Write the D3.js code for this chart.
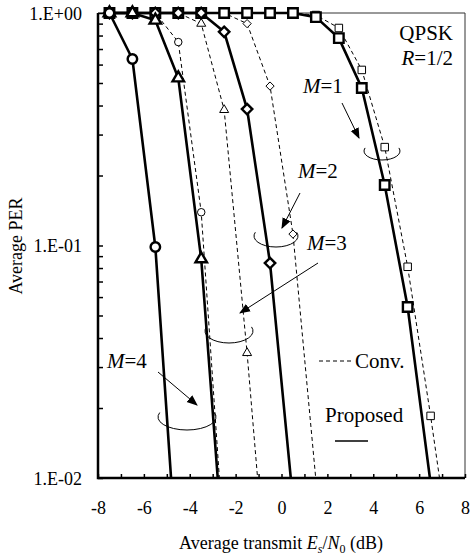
<!DOCTYPE html>
<html><head><meta charset="utf-8">
<script src="https://cdn.jsdelivr.net/npm/d3@7/dist/d3.min.js"></script>
<style>
body{margin:0;background:#fff}
text{font-family:"Liberation Serif","Times New Roman",serif;fill:#000}
</style>
</head><body>
<svg id="chart" width="474" height="559"></svg>
<script>
// ---------- data ----------
const xTickValues = [-8,-6,-4,-2,0,2,4,6,8];
const yTickValues = [0.01, 0.1, 1];
const yTickLabels = ["1.E-02","1.E-01","1.E+00"];

// Proposed (solid, bold markers)
const propM1X = [-7.5,-6.5,-5.5,-4.5,-3.5,-2.5,-1.5,-0.5,0.5,1.5,2.5,3.5,4.5,5.5,6.5];
const propM1Y = [1,1,1,1,1,1,1,1,1,0.96,0.78,0.476,0.182,0.0544,0.0095];
const propM2X = [-7.5,-6.5,-5.5,-4.5,-3.5,-2.5,-1.5,-0.5,0.5];
const propM2Y = [1,1,1,1,1,0.83,0.386,0.084,0.008];
const propM3X = [-7.5,-6.5,-5.5,-4.5,-3.5,-2.5];
const propM3Y = [1,1,0.93,0.525,0.0875,0.0043];
const propM4X = [-7.5,-6.5,-5.5,-4.5];
const propM4Y = [1,0.634,0.0985,0.0035];

// Conventional (dashed, thin markers)
const convM1X = [-7.5,-6.5,-5.5,-4.5,-3.5,-2.5,-1.5,-0.5,0.5,1.5,2.5,3.5,4.5,5.5,6.5,7.5];
const convM1Y = [1,1,1,1,1,1,1,1,1,0.98,0.862,0.569,0.265,0.081,0.0185,0.0038];
const convM2X = [-7.5,-6.5,-5.5,-4.5,-3.5,-2.5,-1.5,-0.5,0.5,1.5];
const convM2Y = [1,1,1,1,1,1,0.9,0.485,0.112,0.0098];
const convM3X = [-7.5,-6.5,-5.5,-4.5,-3.5,-2.5,-1.5,-0.5];
const convM3Y = [1,1,1,1,0.9,0.383,0.0345,0.0023];
const convM4X = [-7.5,-6.5,-5.5,-4.5,-3.5,-2.5];
const convM4Y = [1,1,1,0.75,0.139,0.005];

const seriesLabels = ["M=1","M=2","M=3","M=4"];
const seriesShapes = ["square","diamond","triangle","circle"];

// ---------- layout ----------
const L = 98, R = 465, T = 13, B = 478;
const svg = d3.select("#chart");
const x = d3.scaleLinear().domain([-8, 8]).range([L, R]);
const y = d3.scaleLog().domain([0.01, 1]).range([B, T]);

svg.append("defs").append("clipPath").attr("id","clip")
  .append("rect").attr("x", L).attr("y", 0).attr("width", R - L).attr("height", B);
svg.select("defs").append("marker").attr("id","arrow")
  .attr("viewBox","0 0 10 10").attr("refX",9).attr("refY",5)
  .attr("markerWidth",11).attr("markerHeight",11).attr("markerUnits","userSpaceOnUse")
  .attr("orient","auto")
  .append("path").attr("d","M0,1 L10,5 L0,9 Z").attr("fill","#000");

// frame (thin top/right)
svg.append("path").attr("d", `M${L},${T}H${R}V${B}`).attr("fill","none").attr("stroke","#333").attr("stroke-width",1);

// y axis
const minorY = [];
[0.01, 0.1].forEach(d => { for (let k = 1; k <= 9; k++) minorY.push(d * k); });
minorY.push(1);
const yAxis = d3.axisLeft(y).tickValues(minorY).tickSize(-5).tickPadding(16)
  .tickFormat(d => { const i = yTickValues.findIndex(v => Math.abs(v - d) < 1e-9); return i >= 0 ? yTickLabels[i] : ""; });
const gy = svg.append("g").attr("transform", `translate(${L},0)`).call(yAxis);
gy.select(".domain").remove();
gy.selectAll("line").attr("stroke","#000").attr("stroke-width",1.5);
gy.selectAll("text").attr("font-size", 18).attr("font-family","Liberation Serif").attr("dy","0.34em");

// x axis
const xMinor = d3.range(-8, 9, 1);
const xAxis = d3.axisBottom(x).tickValues(xMinor).tickSize(-4).tickPadding(30)
  .tickFormat(d => xTickValues.includes(d) ? String(d) : "");
const gx = svg.append("g").attr("transform", `translate(0,${B})`).call(xAxis);
gx.select(".domain").remove();
gx.selectAll("line").attr("stroke","#000").attr("stroke-width",1.5);
gx.selectAll("text").attr("font-size", 18).attr("font-family","Liberation Serif").attr("dy","0.36em");

// thick left and bottom axes
svg.append("path").attr("d", `M${L},${T}V${B}H${R}`).attr("fill","none").attr("stroke","#000").attr("stroke-width",2.5);

// axis titles
const xt = svg.append("text").attr("x", 281).attr("y", 549).attr("text-anchor","middle").attr("font-size",18);
xt.append("tspan").text("Average transmit ");
xt.append("tspan").attr("font-style","italic").text("E");
xt.append("tspan").attr("font-style","italic").attr("font-size",12).attr("dy",4).text("s");
xt.append("tspan").attr("dy",-4).text("/");
xt.append("tspan").attr("font-style","italic").text("N");
xt.append("tspan").attr("font-size",12).attr("dy",4).text("0");
xt.append("tspan").attr("dy",-4).text(" (dB)");

svg.append("text").attr("transform","translate(22,246) rotate(-90)").attr("text-anchor","middle")
  .attr("font-size",18).text("Average PER");

// ---------- series ----------
function shapePath(shape, s) {
  if (shape === "square") return `M${-s/2},${-s/2}h${s}v${s}h${-s}Z`;
  if (shape === "circle") { const r = s/2; return `M${-r},0a${r},${r} 0 1,0 ${2*r},0a${r},${r} 0 1,0 ${-2*r},0Z`; }
  if (shape === "triangle") { const h = s*Math.sqrt(3)/2; return `M0,${-h*2/3}L${s/2},${h/3}L${-s/2},${h/3}Z`; }
  if (shape === "diamond") { const d = s/2*1.1; return `M0,${-d}L${d},0L0,${d}L${-d},0Z`; }
}

const conv = [[convM1X,convM1Y],[convM2X,convM2Y],[convM3X,convM3Y],[convM4X,convM4Y]];
const prop = [[propM1X,propM1Y],[propM2X,propM2Y],[propM3X,propM3Y],[propM4X,propM4Y]];
const line = d3.line().x(d => x(d[0])).y(d => y(d[1]));
const plot = svg.append("g");

function drawSeries(list, bold) {
  list.forEach((s, i) => {
    const pts = s[0].map((v, j) => [v, s[1][j]]);
    plot.append("path").datum(pts).attr("d", line).attr("clip-path","url(#clip)")
      .attr("fill","none").attr("stroke","#000")
      .attr("stroke-width", bold ? 2.6 : 1)
      .attr("stroke-dasharray", bold ? null : "4,3");
    plot.append("g").selectAll("path").data(pts.filter(d => d[1] >= 0.01)).join("path")
      .attr("transform", d => `translate(${x(d[0])},${y(d[1])})`)
      .attr("d", shapePath(seriesShapes[i], bold ? (seriesShapes[i]==="triangle" ? 11.5 : 9.5) : (seriesShapes[i]==="triangle" ? 9 : 7.5)))
      .attr("fill","#fff").attr("stroke","#000").attr("stroke-width", bold ? 2.4 : 1);
  });
}
drawSeries(conv, false);
drawSeries(prop, true);

// ---------- annotations ----------
const ann = svg.append("g");
function mLabel(xp, yp, num) {
  const t = ann.append("text").attr("x", xp).attr("y", yp).attr("font-size", 21);
  t.append("tspan").attr("font-style","italic").text("M");
  t.append("tspan").text("=" + num);
}
mLabel(303, 93, 1);
mLabel(298, 178, 2);
mLabel(307, 250, 3);
mLabel(107, 368, 4);

function arrow(x1, y1, x2, y2) {
  ann.append("line").attr("x1",x1).attr("y1",y1).attr("x2",x2).attr("y2",y2)
    .attr("stroke","#000").attr("stroke-width",1).attr("marker-end","url(#arrow)");
}
arrow(342, 103, 359, 138);
arrow(300, 193, 282, 228);
arrow(318, 263, 240, 313);
arrow(158, 372, 197, 405);

function openEllipse(cx, cy, rx, ry) {
  const a1 = 200 * Math.PI / 180, a2 = -20 * Math.PI / 180;
  const x1 = cx + rx * Math.cos(a1), y1 = cy + ry * Math.sin(a1);
  const x2 = cx + rx * Math.cos(a2), y2 = cy + ry * Math.sin(a2);
  ann.append("path").attr("d", `M${x1},${y1}A${rx},${ry} 0 1,0 ${x2},${y2}`)
    .attr("fill","none").attr("stroke","#000").attr("stroke-width",1);
}
openEllipse(382, 151, 18, 9);
openEllipse(276, 236, 22, 11);
openEllipse(229, 331, 24, 12);
openEllipse(187, 417, 29, 13);

// QPSK label
ann.append("text").attr("x", 453).attr("y", 40).attr("text-anchor","end").attr("font-size", 21).text("QPSK");
const rt = ann.append("text").attr("x", 453).attr("y", 65).attr("text-anchor","end").attr("font-size", 21);
rt.append("tspan").attr("font-style","italic").text("R");
rt.append("tspan").text("=1/2");

// legend
ann.append("line").attr("x1",319).attr("x2",351).attr("y1",361).attr("y2",361)
  .attr("stroke","#000").attr("stroke-width",1).attr("stroke-dasharray","4,3");
ann.append("text").attr("x", 355).attr("y", 368).attr("font-size", 21).text("Conv.");
ann.append("text").attr("x", 325).attr("y", 422).attr("font-size", 21).text("Proposed");
ann.append("line").attr("x1",335).attr("x2",368).attr("y1",441).attr("y2",441)
  .attr("stroke","#000").attr("stroke-width",1.3);
</script>
</body></html>
